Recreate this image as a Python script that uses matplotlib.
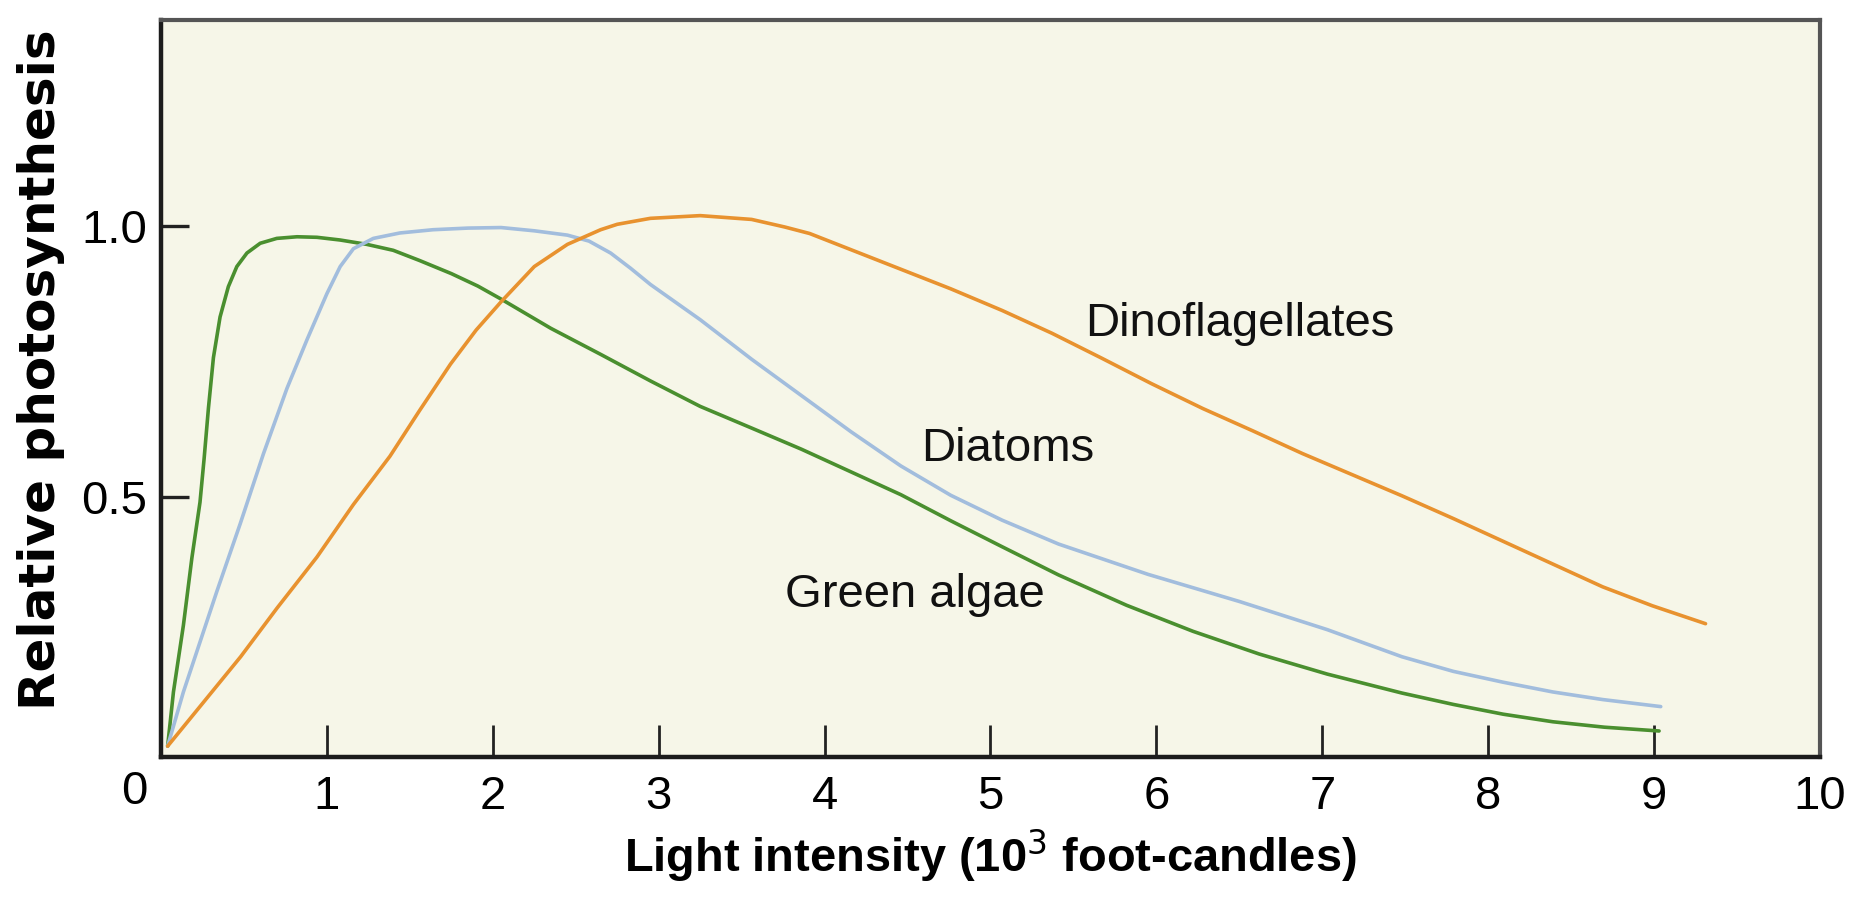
import matplotlib
matplotlib.use("Agg")
import matplotlib.pyplot as plt
from matplotlib import font_manager

# light response curves, relative photosynthesis vs light intensity (10^3 fc)
green_x = [0.04, 0.075, 0.135, 0.186, 0.235, 0.26, 0.286, 0.316, 0.356, 0.406,
           0.457, 0.518, 0.598, 0.698, 0.82, 0.94, 1.08, 1.24, 1.40, 1.56,
           1.75, 1.91, 2.05, 2.35, 2.65, 2.95, 3.25, 3.56, 3.86, 4.16, 4.46,
           4.76, 5.07, 5.41, 5.82, 6.22, 6.62, 7.03, 7.48, 7.79, 8.09, 8.39,
           8.70, 9.03]
green_y = [0.04, 0.14, 0.263, 0.387, 0.49, 0.571, 0.664, 0.757, 0.832, 0.888,
           0.925, 0.950, 0.968, 0.977, 0.980, 0.979, 0.974, 0.966, 0.955, 0.936,
           0.912, 0.889, 0.865, 0.811, 0.763, 0.714, 0.667, 0.627, 0.588, 0.546,
           0.504, 0.456, 0.408, 0.356, 0.300, 0.252, 0.210, 0.173, 0.138, 0.117,
           0.099, 0.085, 0.075, 0.068]

diatom_x = [0.04, 0.135, 0.336, 0.477, 0.618, 0.759, 0.88, 1.0, 1.08, 1.16,
            1.28, 1.44, 1.64, 1.85, 2.05, 2.25, 2.45, 2.58, 2.71, 2.83, 2.95,
            3.25, 3.56, 3.86, 4.16, 4.46, 4.76, 5.07, 5.41, 5.95, 6.50, 7.03,
            7.48, 7.79, 8.09, 8.39, 8.69, 9.04]
diatom_y = [0.04, 0.14, 0.325, 0.45, 0.58, 0.70, 0.79, 0.875, 0.925, 0.958,
            0.977, 0.987, 0.993, 0.996, 0.997, 0.991, 0.983, 0.972, 0.950, 0.922,
            0.892, 0.827, 0.754, 0.687, 0.620, 0.557, 0.503, 0.457, 0.413, 0.357,
            0.307, 0.255, 0.205, 0.178, 0.158, 0.14, 0.126, 0.113]

dino_x = [0.04, 0.24, 0.48, 0.70, 0.94, 1.16, 1.38, 1.56, 1.745, 1.90, 2.05,
          2.25, 2.45, 2.65, 2.75, 2.95, 3.25, 3.56, 3.76, 3.91, 4.06, 4.26,
          4.46, 4.76, 5.07, 5.37, 5.67, 5.97, 6.28, 6.58, 6.88, 7.18, 7.48,
          7.79, 8.09, 8.39, 8.69, 8.99, 9.31]
dino_y = [0.04, 0.115, 0.205, 0.295, 0.389, 0.486, 0.575, 0.66, 0.745, 0.808,
          0.860, 0.925, 0.966, 0.993, 1.003, 1.014, 1.019, 1.012, 0.998, 0.986,
          0.968, 0.944, 0.920, 0.884, 0.844, 0.802, 0.756, 0.709, 0.663, 0.622,
          0.580, 0.541, 0.502, 0.460, 0.418, 0.376, 0.334, 0.299, 0.266]

x_ticks = list(range(0, 11))
y_ticks = [0.5, 1.0]
y_tick_labels = ["0.5", "1.0"]

GREEN = "#4A8F2F"
BLUE = "#A2BDDD"
ORANGE = "#E8922F"
PANEL = "#F6F6E8"

installed = {f.name for f in font_manager.fontManager.ttflist}
if "Liberation Sans Narrow" in installed:
    FONT, k = "Liberation Sans Narrow", 1.18
else:
    FONT, k = "Liberation Sans", 1.0
plt.rcParams["font.family"] = [FONT, "DejaVu Sans"]

fig = plt.figure(figsize=(18.56, 9.05), dpi=100, facecolor="white")
ax = fig.add_axes([161 / 1856, 1 - 757 / 905, 1659 / 1856, 737 / 905])
ax.set_facecolor(PANEL)

for xs, ys, c in ((green_x, green_y, GREEN), (diatom_x, diatom_y, BLUE),
                  (dino_x, dino_y, ORANGE)):
    ax.plot(xs, ys, color=c, lw=2.6, solid_capstyle="round",
            solid_joinstyle="round")

ax.set_xlim(0, 10)
ax.set_ylim(0.02, 1.38)

ax.set_xticks(x_ticks)
ax.set_xticklabels([""] + [str(v) for v in x_ticks[1:]])
ax.set_yticks(y_ticks)
ax.set_yticklabels(y_tick_labels)
ax.tick_params(axis="x", direction="in", length=23, width=2, pad=13,
               labelsize=34 * k, color="#222222")
ax.tick_params(axis="y", direction="in", length=20, width=2.4, pad=10,
               labelsize=34 * k, color="#222222")
ticks = ax.xaxis.get_major_ticks()
ticks[0].tick1line.set_visible(False)
ticks[-1].tick1line.set_visible(False)
# origin label sits just left of the corner
ax.annotate("0", xy=(0, 0), xycoords=("data", "axes fraction"),
            xytext=(-19, -9), textcoords="offset points",
            ha="center", va="top", fontsize=34 * k)

for side in ("left", "bottom"):
    ax.spines[side].set_linewidth(3.2)
    ax.spines[side].set_color("#1c1c1c")
for side in ("top", "right"):
    ax.spines[side].set_linewidth(3.0)
    ax.spines[side].set_color("#555555")

ax.set_xlabel("Light intensity (10$^3$ foot-candles)", fontsize=33.8 * k,
              fontweight="bold")
ax.xaxis.set_label_coords(0.5, -0.095)
ax.set_ylabel("Relative photosynthesis", fontsize=36, fontweight="bold",
              family="DejaVu Sans")
ax.yaxis.set_label_coords(-0.058, 0.526)

label_kw = dict(fontsize=34 * k, ha="left", va="baseline", color="#111111")
ax.text(5.57, 0.796, "Dinoflagellates", **label_kw)
ax.text(4.58, 0.566, "Diatoms", **label_kw)
ax.text(3.76, 0.296, "Green algae", **label_kw)

fig.savefig("out.png", dpi=100, facecolor="white")
